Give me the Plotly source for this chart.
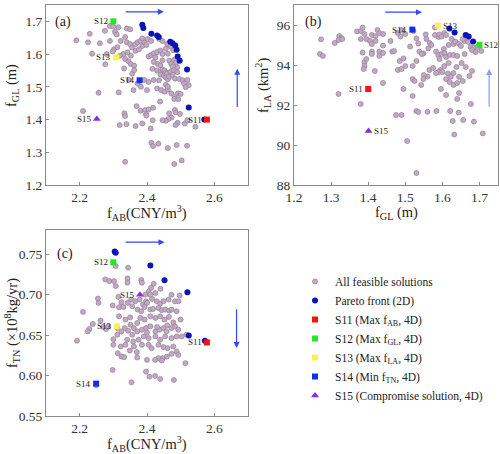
import plotly.graph_objects as go

# ---------------- data ----------------
# Panel (a): f_AB (CNY/m3) vs f_GL (m)
A_FEAS = [
(2.190,1.642),(2.230,1.662),(2.225,1.636),(2.260,1.633),(2.237,1.601),(2.275,1.671),(2.290,1.686),(2.305,1.668),
(2.315,1.682),(2.300,1.684),(2.310,1.660),(2.290,1.640),(2.280,1.600),(2.276,1.569),(2.302,1.615),(2.312,1.621),
(2.298,1.608),(2.322,1.640),(2.335,1.652),(2.340,1.678),(2.350,1.676),(2.340,1.636),(2.350,1.630),(2.356,1.620),
(2.365,1.630),(2.372,1.636),(2.380,1.640),(2.330,1.600),(2.342,1.605),(2.352,1.595),(2.320,1.595),(2.335,1.585),
(2.345,1.578),(2.352,1.570),(2.362,1.565),(2.366,1.610),(2.376,1.615),(2.386,1.625),(2.392,1.636),(2.398,1.628),
(2.402,1.646),(2.412,1.640),(2.386,1.648),(2.405,1.593),(2.412,1.597),(2.420,1.602),(2.430,1.606),(2.425,1.590),
(2.440,1.611),(2.446,1.600),(2.456,1.616),(2.462,1.601),(2.436,1.646),(2.446,1.640),(2.460,1.631),(2.470,1.624),
(2.478,1.612),(2.480,1.582),(2.486,1.574),(2.490,1.560),(2.466,1.580),(2.472,1.570),(2.476,1.562),(2.420,1.576),
(2.432,1.570),(2.440,1.565),(2.446,1.581),(2.416,1.555),(2.430,1.550),(2.440,1.545),(2.446,1.553),(2.452,1.550),
(2.456,1.544),(2.440,1.538),(2.450,1.534),(2.460,1.540),(2.470,1.546),(2.480,1.551),(2.490,1.545),(2.456,1.529),
(2.462,1.523),(2.466,1.531),(2.476,1.536),(2.483,1.525),(2.496,1.524),(2.506,1.520),(2.520,1.521),(2.510,1.510),
(2.524,1.505),(2.515,1.499),(2.392,1.521),(2.405,1.515),(2.420,1.521),(2.436,1.520),(2.372,1.510),(2.356,1.540),
(2.362,1.551),(2.346,1.521),(2.332,1.556),(2.360,1.490),(2.382,1.500),(2.400,1.490),(2.430,1.495),(2.442,1.490),
(2.452,1.485),(2.462,1.492),(2.472,1.480),(2.482,1.470),(2.492,1.480),(2.500,1.478),(2.456,1.506),(2.462,1.500),
(2.256,1.482),(2.316,1.483),(2.210,1.426),(2.333,1.419),(2.335,1.411),(2.369,1.441),(2.381,1.427),(2.395,1.429),
(2.405,1.431),(2.418,1.436),(2.397,1.417),(2.398,1.412),(2.439,1.455),(2.481,1.463),(2.493,1.462),(2.466,1.419),
(2.483,1.429),(2.485,1.422),(2.498,1.417),(2.473,1.406),(2.464,1.402),(2.456,1.396),(2.446,1.398),(2.417,1.398),
(2.491,1.390),(2.485,1.383),(2.512,1.388),(2.520,1.398),(2.544,1.378),(2.319,1.383),(2.339,1.386),(2.366,1.380),
(2.386,1.388),(2.411,1.373),(2.413,1.329),(2.418,1.319),(2.434,1.326),(2.462,1.313),(2.488,1.322),(2.519,1.320),
(2.335,1.271),(2.481,1.264),(2.503,1.275),
]
A_PARETO = [
(2.386,1.690),(2.389,1.680),(2.413,1.662),(2.430,1.657),(2.435,1.652),(2.469,1.638),(2.476,1.633),(2.484,1.626),
(2.488,1.613),(2.491,1.593),(2.497,1.580),(2.519,1.553),(2.524,1.437),(2.570,1.400),
]
A_SPECIAL_X = [2.578, 2.300, 2.309, 2.378, 2.251]
A_SPECIAL_Y = [1.400, 1.700, 1.590, 1.520, 1.402]

# Panel (b): f_GL (m) vs f_LA (km2)
B_FEAS = [
(1.270,94.55),(1.278,94.45),(1.273,95.28),(1.310,95.10),(1.322,95.45),(1.328,95.35),(1.320,95.25),(1.330,95.30),
(1.370,95.68),(1.380,95.70),(1.385,95.87),(1.390,95.55),(1.395,95.30),(1.380,95.30),(1.405,95.20),(1.410,95.50),
(1.420,95.45),(1.425,95.75),(1.430,95.60),(1.440,95.55),(1.420,95.20),(1.410,95.05),(1.440,94.97),(1.460,95.20),
(1.465,94.67),(1.470,94.70),(1.385,94.62),(1.410,94.67),(1.410,94.55),(1.430,94.67),(1.430,94.45),(1.440,94.60),
(1.390,94.15),(1.395,94.30),(1.390,93.95),(1.388,93.80),(1.418,93.70),(1.440,93.10),(1.320,92.55),(1.380,92.05),
(1.475,91.50),(1.490,91.50),(1.505,90.20),(1.530,88.60),
(1.480,95.60),(1.487,95.42),(1.490,95.75),(1.500,95.55),(1.522,95.70),(1.530,95.33),(1.535,95.08),(1.555,95.53),
(1.557,95.30),(1.566,95.10),(1.570,95.00),(1.580,95.87),(1.580,95.50),(1.590,95.40),(1.592,95.53),(1.598,95.42),
(1.605,95.60),(1.610,95.50),(1.617,95.00),(1.625,95.30),(1.630,95.05),(1.635,95.17),(1.645,95.05),(1.650,94.95),
(1.660,95.20),(1.655,95.30),(1.670,95.15),(1.676,94.90),(1.685,94.87),(1.695,94.90),(1.705,94.70),(1.680,94.75),
(1.690,94.65),(1.513,94.92),(1.538,94.67),(1.549,94.58),(1.562,94.83),(1.583,94.67),(1.589,94.50),(1.592,94.30),
(1.598,94.55),(1.604,94.80),(1.606,94.60),(1.610,94.40),(1.620,94.50),(1.617,94.10),(1.630,94.50),(1.640,94.45),
(1.652,94.10),(1.660,94.55),(1.495,94.33),(1.500,93.95),(1.485,94.20),(1.480,93.75),(1.490,93.80),(1.530,94.20),
(1.545,94.55),(1.520,93.95),(1.605,93.95),(1.595,93.75),(1.590,93.65),(1.583,93.60),(1.600,93.65),(1.615,93.58),
(1.623,93.42),(1.630,93.60),(1.638,93.90),(1.663,93.90),(1.680,93.70),(1.673,93.45),(1.655,93.20),(1.630,93.00),
(1.596,92.80),(1.565,93.75),(1.560,93.42),(1.550,93.50),(1.543,93.00),(1.549,93.30),(1.495,92.80),(1.520,93.30),
(1.525,93.20),(1.520,92.45),(1.575,93.85),(1.610,93.30),(1.620,93.15),(1.640,93.10),(1.645,93.40),(1.610,92.50),
(1.640,92.30),(1.645,92.60),(1.677,92.05),(1.584,91.70),(1.621,91.70),(1.644,91.62),(1.656,91.25),(1.628,91.20),
(1.685,91.17),(1.709,90.58),(1.632,90.52),(1.530,91.70),(1.535,91.65),(1.560,91.66),
]
B_PARETO = [(1.619,95.83),(1.633,95.63),(1.663,95.50),(1.671,95.42),(1.683,95.17)]
B_SPECIAL_X = [1.400, 1.700, 1.588, 1.519, 1.401]
B_SPECIAL_Y = [92.80, 95.00, 95.97, 95.77, 90.70]

# Panel (c): f_AB (CNY/m3) vs f_TN (x10^8 kg/yr)
C_FEAS = [
(2.307,0.7355),(2.344,0.7334),(2.276,0.7189),(2.288,0.7168),(2.302,0.7168),(2.307,0.7106),(2.342,0.7201),(2.342,0.7148),
(2.383,0.7181),(2.385,0.7148),(2.420,0.7135),(2.412,0.7085),(2.440,0.7073),(2.405,0.7036),(2.395,0.7002),(2.410,0.7002),
(2.425,0.7020),(2.473,0.7000),(2.497,0.6990),(2.254,0.6953),(2.256,0.6899),(2.315,0.6973),(2.324,0.6907),(2.298,0.6866),
(2.317,0.6845),(2.330,0.6849),(2.343,0.6899),(2.353,0.6940),(2.365,0.6919),(2.378,0.6940),(2.388,0.6878),(2.397,0.6919),
(2.415,0.6948),(2.429,0.6919),(2.439,0.6890),(2.449,0.6919),(2.464,0.6940),(2.483,0.6919),(2.493,0.6919),(2.356,0.6857),
(2.372,0.6816),(2.383,0.6795),(2.393,0.6849),(2.410,0.6816),(2.418,0.6824),(2.434,0.6837),(2.444,0.6808),(2.454,0.6816),
(2.466,0.6803),(2.473,0.6816),(2.488,0.6795),(2.210,0.6787),(2.239,0.6638),(2.229,0.6575),(2.224,0.6546),(2.192,0.6430),
(2.278,0.6575),(2.285,0.6609),(2.317,0.6733),(2.336,0.6692),(2.351,0.6629),(2.361,0.6588),(2.371,0.6650),(2.380,0.6712),
(2.393,0.6692),(2.410,0.6733),(2.425,0.6712),(2.439,0.6733),(2.452,0.6692),(2.465,0.6725),(2.478,0.6658),(2.500,0.6692),
(2.334,0.6588),(2.324,0.6546),(2.312,0.6505),(2.344,0.6554),(2.356,0.6505),(2.371,0.6546),(2.385,0.6567),(2.397,0.6588),
(2.410,0.6609),(2.425,0.6546),(2.437,0.6567),(2.449,0.6588),(2.458,0.6546),(2.473,0.6588),(2.483,0.6609),(2.493,0.6567),
(2.503,0.6484),(2.517,0.6505),(2.488,0.6484),(2.473,0.6463),(2.454,0.6484),(2.439,0.6443),(2.425,0.6484),(2.405,0.6463),
(2.390,0.6484),(2.375,0.6443),(2.359,0.6422),(2.341,0.6443),(2.336,0.6380),(2.322,0.6360),(2.300,0.6380),(2.313,0.6277),
(2.324,0.6236),(2.332,0.6227),(2.349,0.6310),(2.361,0.6360),(2.385,0.6380),(2.405,0.6380),(2.414,0.6339),(2.434,0.6380),
(2.449,0.6352),(2.461,0.6339),(2.478,0.6360),(2.488,0.6298),(2.473,0.6269),(2.459,0.6235),(2.446,0.6215),(2.434,0.6215),
(2.424,0.6194),(2.400,0.6194),(2.371,0.6223),(2.444,0.6186),(2.493,0.6256),(2.514,0.6153),(2.397,0.6049),(2.407,0.5987),
(2.424,0.5995),(2.439,0.5958),(2.480,0.5945),(2.298,0.6070),(2.354,0.5916),(2.249,0.5880),(2.312,0.6588),(2.262,0.6680),
(2.300,0.6450),(2.270,0.6600),(2.350,0.6720),(2.400,0.6900),(2.430,0.6600),(2.460,0.6620),(2.400,0.6530),(2.370,0.6290),
]
C_PARETO = [(2.304,0.7533),(2.307,0.7520),(2.410,0.7360),(2.452,0.7180),(2.520,0.7030),(2.524,0.6495),(2.572,0.6430)]
C_SPECIAL_X = [2.578, 2.300, 2.310, 2.249, 2.379]
C_SPECIAL_Y = [0.641, 0.740, 0.661, 0.590, 0.700]

SPECIAL_NAMES = ["S11", "S12", "S13", "S14", "S15"]
LEGEND_NAMES = ["S11 (Max f<sub>AB</sub>, 4D)", "S12 (Max f<sub>GL</sub>, 4D)", "S13 (Max f<sub>LA</sub>, 4D)",
                "S14 (Min f<sub>TN</sub>, 4D)", "S15 (Compromise solution, 4D)"]
SPECIAL_COLORS = ["#ff1010", "#22e822", "#ffee55", "#1030e8", "#8a2be2"]
SPECIAL_SYMBOLS = ["square", "square", "square", "square", "triangle-up"]
# label side per panel: +1 right of marker, -1 left
A_LABEL_SIDE = [-1, -1, -1, -1, -1]
B_LABEL_SIDE = [-1, 1, 1, -1, 1]
C_LABEL_SIDE = [-1, -1, -1, -1, -1]

# preference arrows (start, end) in data units
A_ARROWS = [((2.332, 1.729), (2.450, 1.729)), ((2.668, 1.434), (2.668, 1.555))]
B_ARROWS = [((1.442, 96.64), (1.545, 96.64)), ((1.726, 91.84), (1.726, 93.80))]
C_ARROWS = [((2.332, 0.765), (2.452, 0.765)), ((2.666, 0.684), (2.666, 0.634))]

FONT = "Liberation Serif"
FEAS_FILL = "#c6a8c2"
FEAS_LINE = "#8e8298"
PARETO_COLOR = "#0a14b4"
ARROW_COLOR = "#3048ff"

fig = go.Figure()

panels = [
    ("x", "y", A_FEAS, A_PARETO, A_SPECIAL_X, A_SPECIAL_Y, A_LABEL_SIDE, A_ARROWS, True),
    ("x2", "y2", B_FEAS, B_PARETO, B_SPECIAL_X, B_SPECIAL_Y, B_LABEL_SIDE, B_ARROWS, False),
    ("x3", "y3", C_FEAS, C_PARETO, C_SPECIAL_X, C_SPECIAL_Y, C_LABEL_SIDE, C_ARROWS, False),
]

annotations = []
for xa, ya, feas, pareto, sx, sy, side, arrows, show in panels:
    fig.add_trace(go.Scatter(
        x=[p[0] for p in feas], y=[p[1] for p in feas], xaxis=xa, yaxis=ya, mode="markers",
        name="All feasible solutions", showlegend=show,
        marker=dict(size=5, color=FEAS_FILL, line=dict(color=FEAS_LINE, width=0.7))))
    fig.add_trace(go.Scatter(
        x=[p[0] for p in pareto], y=[p[1] for p in pareto], xaxis=xa, yaxis=ya, mode="markers",
        name="Pareto front (2D)", showlegend=show,
        marker=dict(size=6, color=PARETO_COLOR, line=dict(width=0))))
    for i in range(len(SPECIAL_NAMES)):
        fig.add_trace(go.Scatter(
            x=[sx[i]], y=[sy[i]], xaxis=xa, yaxis=ya, mode="markers",
            name=LEGEND_NAMES[i], showlegend=show,
            marker=dict(size=6 if SPECIAL_SYMBOLS[i] == "square" else 7, symbol=SPECIAL_SYMBOLS[i],
                        color=SPECIAL_COLORS[i], line=dict(width=0))))
        annotations.append(dict(
            x=sx[i], y=sy[i], xref=xa, yref=ya, text=SPECIAL_NAMES[i], showarrow=False,
            xanchor="left" if side[i] > 0 else "right", xshift=3 * side[i],
            font=dict(family=FONT, size=9, color="#222")))
    for j, (s, e) in enumerate(arrows):
        annotations.append(dict(
            x=e[0], y=e[1], ax=s[0], ay=s[1], xref=xa, yref=ya, axref=xa, ayref=ya,
            text="", showarrow=True, arrowhead=2, arrowsize=1.0, arrowwidth=1.2,
            arrowcolor=("rgba(48,72,255,0.55)" if (xa == "x2" and j == 1) else ARROW_COLOR)))

# panel letters
for lbl, xr, yr, xp, yp in [("(a)", "x domain", "y domain", 0.035, 0.905),
                            ("(b)", "x2 domain", "y2 domain", 0.045, 0.905),
                            ("(c)", "x3 domain", "y3 domain", 0.045, 0.87)]:
    annotations.append(dict(x=xp, y=yp, xref=xr, yref=yr, text=lbl, showarrow=False,
                            xanchor="left", yanchor="middle", font=dict(family=FONT, size=14, color="#222")))

# axis titles as annotations
TITLE_FONT = dict(family=FONT, size=14.5, color="#222")
for txt, xr, yr, xp, yp, ang in [
    ("f<sub>AB</sub>(CNY/m<sup>3</sup>)", "x domain", "paper", 0.5, 1 - 213 / 454, 0),
    ("f<sub>GL</sub> (m)", "paper", "y domain", 12 / 500, 0.55, -90),
    ("f<sub>GL</sub> (m)", "x2 domain", "paper", 0.5, 1 - 213 / 454, 0),
    ("f<sub>LA</sub> (km<sup>2</sup>)", "paper", "y2 domain", 263 / 500, 0.55, -90),
    ("f<sub>AB</sub>(CNY/m<sup>3</sup>)", "x3 domain", "paper", 0.5, 1 - 444 / 454, 0),
    ("f<sub>TN</sub> (×10<sup>8</sup>kg/yr)", "paper", "y3 domain", 12 / 500, 0.5, -90),
]:
    annotations.append(dict(x=xp, y=yp, xref=xr, yref=yr, text=txt, showarrow=False, textangle=ang,
                            xanchor="center", yanchor="middle", font=TITLE_FONT))

axis_common = dict(showline=True, mirror=True, linecolor="#8a8a8a", linewidth=1, ticks="inside",
                   ticklen=3, tickcolor="#8a8a8a", showgrid=False, zeroline=False, automargin=False,
                   tickfont=dict(family=FONT, size=13.5, color="#333"))

dom_a_x = [46 / 500, 248 / 500]
dom_b_x = [294 / 500, 498 / 500]
dom_a_y = [1 - 185 / 454, 1 - 5 / 454]
dom_c_y = [1 - 416 / 454, 1 - 230 / 454]

fig.update_layout(
    width=500, height=454, margin=dict(l=0, r=0, t=0, b=0, autoexpand=False),
    paper_bgcolor="white", plot_bgcolor="white",
    font=dict(family=FONT, color="#222"),
    xaxis=dict(domain=dom_a_x, anchor="y", range=[2.1, 2.7], tickvals=[2.2, 2.4, 2.6], ticktext=["2.2", "2.4", "2.6"], **axis_common),
    yaxis=dict(domain=dom_a_y, anchor="x", range=[1.2, 1.75], tickvals=[1.2, 1.3, 1.4, 1.5, 1.6, 1.7],
               ticktext=["1.2", "1.3", "1.4", "1.5", "1.6", "1.7"], **axis_common),
    xaxis2=dict(domain=dom_b_x, anchor="y2", range=[1.2, 1.75], tickvals=[1.2, 1.3, 1.4, 1.5, 1.6, 1.7],
                ticktext=["1.2", "1.3", "1.4", "1.5", "1.6", "1.7"], **axis_common),
    yaxis2=dict(domain=dom_a_y, anchor="x2", range=[88, 97], tickvals=[88, 90, 92, 94, 96], **axis_common),
    xaxis3=dict(domain=dom_a_x, anchor="y3", range=[2.1, 2.7], tickvals=[2.2, 2.4, 2.6], ticktext=["2.2", "2.4", "2.6"], **axis_common),
    yaxis3=dict(domain=dom_c_y, anchor="x3", range=[0.55, 0.78], tickvals=[0.55, 0.60, 0.65, 0.70, 0.75],
                ticktext=["0.55", "0.60", "0.65", "0.70", "0.75"], **axis_common),
    legend=dict(x=295 / 500, y=1 - 267 / 454, xanchor="left", yanchor="top", bgcolor="rgba(0,0,0,0)",
                font=dict(family=FONT, size=11.5, color="#222"), tracegroupgap=0),
    annotations=annotations,
    showlegend=True,
)

fig.write_html("out.html")
